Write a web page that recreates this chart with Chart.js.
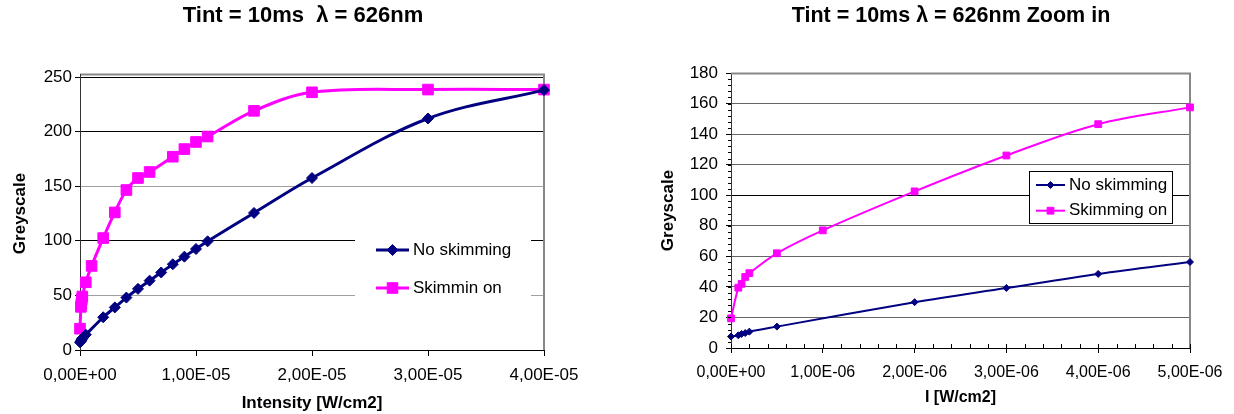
<!DOCTYPE html>
<html>
<head>
<meta charset="utf-8">
<script src="https://cdn.jsdelivr.net/npm/chart.js@4/dist/chart.umd.min.js"></script>
<style>
body { margin: 0; background: #fff; overflow: hidden; width: 1234px; height: 414px; position: relative; }
.box { position: absolute; top: 0; }
</style>
</head>
<body>
<div class="box" style="left:0"><canvas id="fullChart" width="606" height="414"></canvas></div>
<div class="box" style="left:650px"><canvas id="zoomChart" width="602" height="414"></canvas></div>
<script>
// full range measurement (left chart)
const noSkimX = [0, 8e-8, 1.15e-7, 1.55e-7, 2e-7, 5e-7, 2e-6, 3e-6, 4e-6, 5e-6, 6e-6, 7e-6, 8e-6, 9e-6, 1e-5, 1.1e-5, 1.5e-5, 2e-5, 3e-5, 4e-5];
const noSkimY = [7, 8, 9, 9.8, 10.7, 14, 30, 39, 48, 56, 63.5, 71, 78.5, 85.5, 92.5, 99.5, 125.5, 157.5, 212, 238];
const skimX = [0, 8e-8, 1.15e-7, 1.55e-7, 2e-7, 5e-7, 1e-6, 2e-6, 3e-6, 4e-6, 5e-6, 6e-6, 8e-6, 9e-6, 1e-5, 1.1e-5, 1.5e-5, 2e-5, 3e-5, 4e-5];
const skimY = [19.5, 39.5, 42, 46.5, 49, 62, 77, 102.5, 126, 146.5, 157.5, 163, 177, 184, 190.5, 195.5, 219, 236, 238.5, 238.5];

// zoomed measurement (right chart)
const zoomNoSkimX = [0, 8e-8, 1.15e-7, 1.55e-7, 2e-7, 5e-7, 2e-6, 3e-6, 4e-6, 5e-6];
const zoomNoSkimY = [7.5, 8.3, 9.2, 9.8, 10.7, 14, 30, 39.3, 48.5, 56.3];
const zoomSkimX = [0, 8e-8, 1.15e-7, 1.55e-7, 2e-7, 5e-7, 1e-6, 2e-6, 3e-6, 4e-6, 5e-6];
const zoomSkimY = [19.4, 39.5, 42, 46.5, 49, 62, 77, 102.5, 126, 146.5, 157.5];

// axis ticks
const fullYTicks = [0, 250, 50];    // min, max, step
const fullXTicks = [0, 4e-5, 1e-5];
const zoomYTicks = [0, 180, 20];
const zoomXTicks = [0, 5e-6, 1e-6];

const navy = "#000080";
const pink = "#FF00FF";
Chart.defaults.font.family = "'Liberation Sans', Arial, sans-serif";
Chart.defaults.color = "#000";

function pts(xs, ys) {
	return xs.map((x, i) => ({ x: x, y: ys[i] }));
}

// 1.00E-05 style with comma decimal
function sciLabel(v) {
	if (Math.abs(v) < 1e-15) return "0,00E+00";
	let parts = v.toExponential(2).split("e");
	let n = parseInt(parts[1]);
	return parts[0].replace(".", ",") + "E" + (n < 0 ? "-" : "+") + String(Math.abs(n)).padStart(2, "0");
}

// grey frame on top and right of the plot area
const plotFrame = {
	id: "plotFrame",
	beforeDatasetsDraw(chart, args, opts) {
		const a = chart.chartArea, ctx = chart.ctx;
		ctx.save();
		ctx.strokeStyle = opts.color;
		ctx.lineWidth = opts.width;
		ctx.beginPath();
		ctx.moveTo(a.left, a.top - opts.lift + 0.5);
		ctx.lineTo(a.right, a.top - opts.lift + 0.5);
		ctx.lineTo(a.right, a.bottom);
		ctx.stroke();
		ctx.strokeStyle = "#333";
		ctx.lineWidth = 1;
		ctx.beginPath();
		ctx.moveTo(a.left + 0.5, a.top - opts.lift);
		ctx.lineTo(a.left + 0.5, a.top);
		ctx.stroke();
		ctx.restore();
	},
};

// small ticks between the labelled ones
const minorTicks = {
	id: "minorTicks",
	afterDraw(chart, args, opts) {
		if (!opts.xStep) return;
		const ctx = chart.ctx, xs = chart.scales.x, ys = chart.scales.y, a = chart.chartArea;
		ctx.save();
		ctx.strokeStyle = "#000";
		ctx.lineWidth = 1;
		ctx.beginPath();
		let nx = Math.round((xs.max - xs.min) / opts.xStep);
		for (let i = 0; i <= nx; i++) {
			const p = Math.round(xs.getPixelForValue(xs.min + i * opts.xStep)) + 0.5;
			ctx.moveTo(p, a.bottom);
			ctx.lineTo(p, a.bottom - 4);
		}
		let ny = Math.round((ys.max - ys.min) / opts.yStep);
		for (let i = 0; i <= ny; i++) {
			const p = Math.round(ys.getPixelForValue(ys.min + i * opts.yStep)) + 0.5;
			ctx.moveTo(a.left, p);
			ctx.lineTo(a.left - 3, p);
		}
		ctx.stroke();
		ctx.restore();
	},
};

// legend box drawn inside the plot
const boxLegend = {
	id: "boxLegend",
	afterDatasetsDraw(chart, args, opts) {
		const ctx = chart.ctx;
		ctx.save();
		ctx.fillStyle = "#fff";
		ctx.fillRect(opts.x, opts.y, opts.w, opts.h);
		if (opts.border) {
			ctx.strokeStyle = "#000";
			ctx.lineWidth = 1;
			ctx.strokeRect(opts.x + 0.5, opts.y + 0.5, opts.w, opts.h);
		}
		ctx.font = opts.font;
		ctx.textBaseline = "middle";
		chart.data.datasets.forEach((ds, i) => {
			const y = opts.rows[i];
			ctx.strokeStyle = ds.borderColor;
			ctx.lineWidth = ds.borderWidth;
			ctx.beginPath();
			ctx.moveTo(opts.lineX, y);
			ctx.lineTo(opts.lineX + opts.lineLen, y);
			ctx.stroke();
			ctx.fillStyle = ds.backgroundColor;
			ctx.lineWidth = 1;
			Chart.helpers.drawPoint(ctx, { pointStyle: ds.pointStyle, radius: ds.pointRadius, borderWidth: 1, rotation: 0 }, opts.lineX + opts.lineLen / 2, y);
			ctx.fillStyle = "#000";
			ctx.fillText(ds.label, opts.textX, y);
		});
		ctx.restore();
	},
};

function makeChart(id, cfg) {
	return new Chart(document.getElementById(id), {
		type: "line",
		data: {
			datasets: [
				{
					label: "No skimming",
					data: cfg.navyData,
					borderColor: navy,
					backgroundColor: navy,
					borderWidth: cfg.lineW,
					pointStyle: "rectRot",
					pointRadius: cfg.diamondR,
					pointBorderWidth: 1,
					tension: 0.35,
					clip: false,
				},
				{
					label: cfg.pinkLabel,
					data: cfg.pinkData,
					borderColor: pink,
					backgroundColor: pink,
					borderWidth: cfg.lineW,
					pointStyle: "rect",
					pointRadius: cfg.squareR,
					pointBorderWidth: 1,
					tension: 0.35,
					clip: false,
				},
			],
		},
		options: {
			responsive: false,
			animation: false,
			layout: { padding: 0 },
			plugins: {
				legend: { display: false },
				tooltip: { enabled: false },
				title: {
					display: true,
					text: cfg.title,
					font: { size: cfg.titleFont, weight: "bold" },
					color: "#000",
					padding: { top: 3, bottom: cfg.titleGap },
				},
				plotFrame: { color: "#888", width: 2, lift: cfg.lift },
				minorTicks: cfg.minor,
				boxLegend: cfg.legend,
			},
			scales: {
				x: {
					type: "linear",
					min: cfg.xTicks[0],
					max: cfg.xTicks[1],
					afterFit: (s) => { s.height = cfg.xAxisH; },
					border: { display: true, color: "#000", width: 1 },
					grid: { drawOnChartArea: false, tickLength: cfg.xTickLen, tickColor: "#000" },
					ticks: {
						stepSize: cfg.xTicks[2],
						autoSkip: false,
						maxRotation: 0,
						padding: cfg.xLabelPad,
						font: { size: cfg.xFont },
						callback: (v) => sciLabel(v),
					},
					title: {
						display: true,
						text: cfg.xTitle,
						font: { size: cfg.xTitleFont, weight: "bold" },
						padding: { top: 0, bottom: cfg.xTitlePad },
					},
				},
				y: {
					min: cfg.yTicks[0],
					max: cfg.yTicks[1],
					afterFit: (s) => { s.width = cfg.yAxisW; },
					border: { display: true, color: "#333", width: 1 },
					grid: {
						color: cfg.gridColor,
						tickLength: 5,
						tickColor: "#000",
					},
					ticks: {
						stepSize: cfg.yTicks[2],
						padding: cfg.yLabelPad,
						font: { size: 17 },
					},
					title: {
						display: true,
						text: "Greyscale",
						font: { size: 17, weight: "bold" },
						padding: { top: cfg.yTitlePad, bottom: 0 },
					},
				},
				// empty strip on the right so the title stays centred on the whole canvas
				yGap: {
					position: "right",
					display: true,
					grid: { display: false },
					border: { display: false },
					ticks: { display: false },
					afterFit: (s) => { s.width = 62; },
				},
			},
		},
		plugins: [plotFrame, minorTicks, boxLegend],
	});
}

makeChart("fullChart", {
	title: "Tint = 10ms  \u03bb = 626nm",
	titleFont: 22,
	titleGap: 47.6,
	lift: 3,
	navyData: pts(noSkimX, noSkimY),
	pinkData: pts(skimX, skimY),
	pinkLabel: "Skimmin on",
	lineW: 3,
	diamondR: 5.5,
	squareR: 7.5,
	xTicks: fullXTicks,
	yTicks: fullYTicks,
	xAxisH: 64,
	yAxisW: 80,
	xTickLen: 6,
	xLabelPad: 9,
	xFont: 17,
	xTitle: "Intensity [W/cm2]",
	xTitleFont: 17,
	xTitlePad: 0,
	yLabelPad: 3,
	yTitlePad: 10,
	gridColor: (c) => (c.tick && (c.tick.value % 100 === 0 || c.tick.value === 250) ? "#000" : "#a0a0a0"),
	minor: {},
	legend: {
		x: 355, y: 222, w: 176, h: 92, border: false,
		rows: [250, 288], lineX: 376, lineLen: 33, textX: 413,
		font: "17px 'Liberation Sans', Arial, sans-serif",
	},
});

makeChart("zoomChart", {
	title: "Tint = 10ms \u03bb = 626nm Zoom in",
	titleFont: 21.5,
	titleGap: 44.2,
	lift: 0,
	navyData: pts(zoomNoSkimX, zoomNoSkimY),
	pinkData: pts(zoomSkimX, zoomSkimY),
	pinkLabel: "Skimming on",
	lineW: 2,
	diamondR: 3.5,
	squareR: 4.8,
	xTicks: zoomXTicks,
	yTicks: zoomYTicks,
	xAxisH: 66,
	yAxisW: 81,
	xTickLen: 5,
	xLabelPad: 10,
	xFont: 16,
	xTitle: "I [W/cm2]",
	xTitleFont: 16,
	xTitlePad: 7,
	yLabelPad: 8,
	yTitlePad: 8,
	gridColor: (c) => (c.tick && (c.tick.value === 100 || c.tick.value === 180) ? "#000" : "#666"),
	minor: { xStep: 2e-7, yStep: 4 },
	legend: {
		x: 379, y: 171, w: 143, h: 52, border: true,
		rows: [185, 210.7], lineX: 386, lineLen: 29, textX: 419,
		font: "17px 'Liberation Sans', Arial, sans-serif",
	},
});
</script>
</body>
</html>
